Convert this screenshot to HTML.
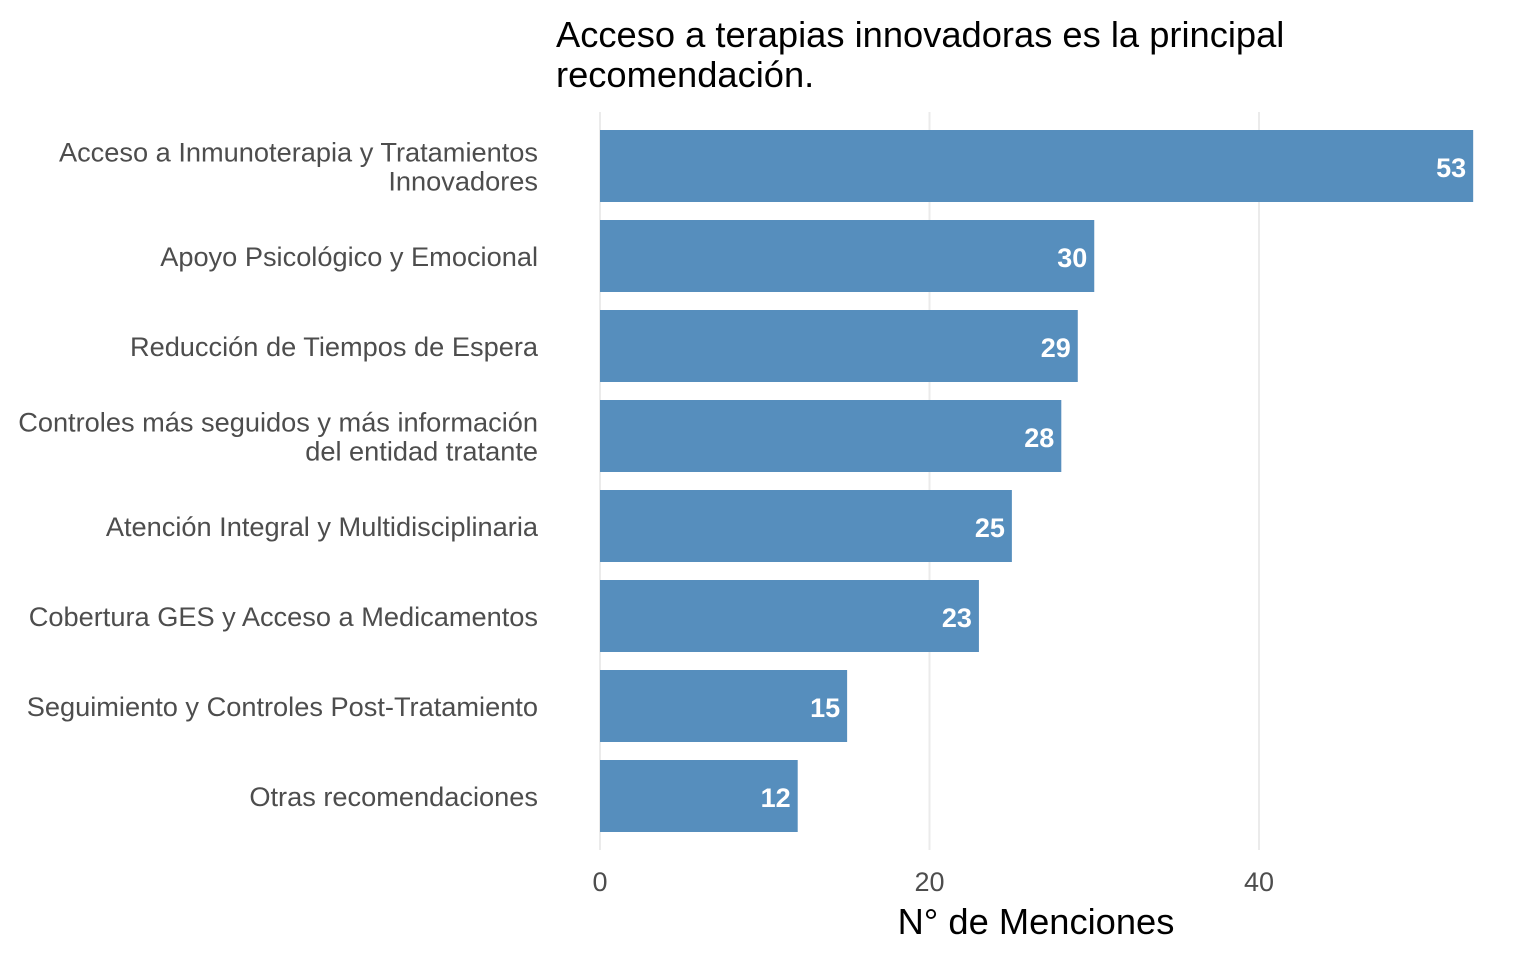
<!DOCTYPE html>
<html><head><meta charset="utf-8"><style>
body{margin:0;background:#fff;}
svg{display:block;font-family:"Liberation Sans",Arial,sans-serif;}
</style></head><body>
<svg id="chart" width="1536" height="960">
<text x="556" y="47" font-size="36.3" fill="#000">Acceso a terapias innovadoras es la principal</text>
<text x="556" y="87" font-size="36.3" fill="#000">recomendación.</text>
<g id="grid"></g><g id="bars"></g><g id="ylab"></g><g id="xt"></g>
<text x="1036" y="934" font-size="36.3" text-anchor="middle" fill="#000">N° de Menciones</text>
</svg>
<script>
const categories=[["Acceso a Inmunoterapia y Tratamientos","Innovadores"],["Apoyo Psicológico y Emocional"],["Reducción de Tiempos de Espera"],["Controles más seguidos y más información","del entidad tratante"],["Atención Integral y Multidisciplinaria"],["Cobertura GES y Acceso a Medicamentos"],["Seguimiento y Controles Post-Tratamiento"],["Otras recomendaciones"]];
const values=[53,30,29,28,25,23,15,12];
const ticks=[0,20,40];
const NS="http://www.w3.org/2000/svg";
const x=v=>600+v*16.475;
const yc=i=>166+i*90;
function mk(t,a,p){const e=document.createElementNS(NS,t);for(const k in a)e.setAttribute(k,a[k]);p.appendChild(e);return e;}
const grid=document.getElementById('grid'),bars=document.getElementById('bars'),yl=document.getElementById('ylab'),xt=document.getElementById('xt');
ticks.forEach(v=>{const l=mk('line',{x1:x(v),x2:x(v),y1:112,y2:850,stroke:'#ebebeb','stroke-width':2},grid);

});
ticks.forEach(v=>{const t=mk('text',{x:x(v),y:891,'font-size':27,fill:'#4d4d4d','text-anchor':'middle'},xt);t.textContent=v;

});
values.forEach((v,i)=>{const r=mk('rect',{x:x(0),y:yc(i)-36,width:x(v)-x(0),height:72,fill:'#568EBD'},bars);


const t=mk('text',{x:x(v)-7,y:yc(i)+11,'font-size':27,'font-weight':'bold',fill:'#fff','text-anchor':'end'},bars);t.textContent=v;


const lines=categories[i];
lines.forEach((s,j)=>{const ty=yc(i)+10+(j-(lines.length-1)/2)*29;const c=mk('text',{x:538,y:ty,'font-size':27.2,fill:'#4d4d4d','text-anchor':'end'},yl);c.textContent=s;

});});
</script>
</body></html>
